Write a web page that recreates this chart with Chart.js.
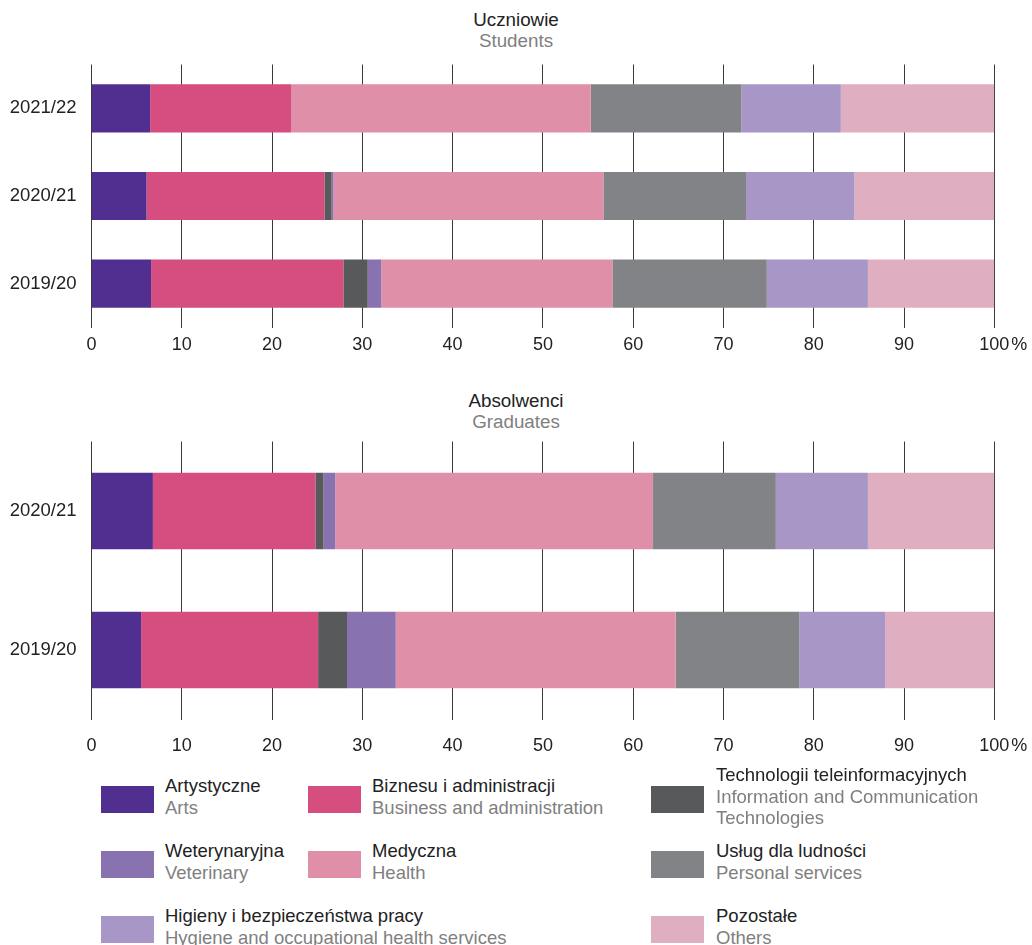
<!DOCTYPE html>
<html>
<head>
<meta charset="utf-8">
<script src="https://cdn.jsdelivr.net/npm/chart.js@4.4.0/dist/chart.umd.min.js"></script>
<style>
  body { margin: 0; background: #fff; font-family: 'Liberation Sans', Arial, sans-serif; }
  #page { position: relative; width: 1032px; height: 945px; overflow: hidden; }
  .box { position: absolute; left: 0; width: 1032px; }
  .ttl { position: absolute; left: 0; width: 1032px; text-align: center; font-size: 18.8px; line-height: 21px; }
  .pl { color: #222; }
  .en { color: #7f7f7f; }
  .sw { position: absolute; width: 53px; height: 27px; }
  .lt { position: absolute; font-size: 18.5px; line-height: 21.5px; white-space: nowrap; }
</style>
</head>
<body>
<div id="page">
  <div class="ttl" style="top:9px"><span class="pl">Uczniowie</span><br><span class="en">Students</span></div>
  <div class="box" style="top:0;height:360px"><canvas id="students"></canvas></div>
  <div class="ttl" style="top:390px"><span class="pl">Absolwenci</span><br><span class="en">Graduates</span></div>
  <div class="box" style="top:360px;height:410px"><canvas id="graduates"></canvas></div>
  <div id="legend"></div>
</div>
<script>
// years
const studentYears = ["2021/22", "2020/21", "2019/20"];
const graduateYears = ["2020/21", "2019/20"];

// series names (pl / en)
const namesPl = ["Artystyczne", "Biznesu i administracji", "Technologii teleinformacyjnych", "Weterynaryjna",
  "Medyczna", "Usług dla ludności", "Higieny i bezpieczeństwa pracy", "Pozostałe"];
const namesEn = ["Arts", "Business and administration", "Information and Communication<br>Technologies", "Veterinary",
  "Health", "Personal services", "Hygiene and occupational health services", "Others"];
const colors = ["#512f90", "#d64d80", "#58595b", "#8872b0", "#df8fa8", "#828386", "#a897c6", "#dfaec1"];

// students, % (one array per group, order = studentYears)
const stArts     = [6.5, 6.1, 6.6];
const stBusiness = [15.6, 19.7, 21.3];
const stIct      = [0, 0.8, 2.7];
const stVet      = [0, 0.2, 1.5];
const stHealth   = [33.2, 29.9, 25.6];
const stPersonal = [16.7, 15.8, 17.1];
const stHygiene  = [11.0, 12.0, 11.2];
const stOthers   = [17.0, 15.5, 14.0];

// graduates, % (order = graduateYears)
const grArts     = [6.8, 5.5];
const grBusiness = [18.0, 19.6];
const grIct      = [0.9, 3.2];
const grVet      = [1.3, 5.4];
const grHealth   = [35.2, 31.0];
const grPersonal = [13.6, 13.7];
const grHygiene  = [10.2, 9.5];
const grOthers   = [14.0, 12.1];

const xTicks = [0, 10, 20, 30, 40, 50, 60, 70, 80, 90, 100];

Chart.defaults.font.family = "'Liberation Sans', Arial, sans-serif";
Chart.defaults.font.size = 18;
Chart.defaults.color = "#222";

// draws the "%" right after the 100 tick
const percentSign = {
  id: "percentSign",
  afterDraw(chart, args, opts) {
    const x = chart.scales.x;
    const ctx = chart.ctx;
    ctx.save();
    ctx.font = "18px 'Liberation Sans', Arial, sans-serif";
    ctx.fillStyle = "#222";
    ctx.textBaseline = "middle";
    ctx.textAlign = "left";
    const px = x.getPixelForValue(100) + ctx.measureText("100").width / 2 + 2;
    ctx.fillText("%", px, x.top + opts.pad + 10.8);
    ctx.restore();
  }
};

function makeChart(id, labels, series, padTop, axisH, tickPad) {
  return new Chart(document.getElementById(id), {
    type: "bar",
    data: {
      labels: labels,
      datasets: series.map((d, i) => ({
        label: namesPl[i],
        data: d,
        backgroundColor: colors[i],
        borderWidth: 0,
        categoryPercentage: 0.55,
        barPercentage: 1.0,
      })),
    },
    options: {
      indexAxis: "y",
      responsive: true,
      maintainAspectRatio: false,
      animation: false,
      layout: { padding: { top: padTop, right: 37.7, left: 0, bottom: 0 } },
      plugins: { legend: { display: false }, tooltip: { enabled: false }, percentSign: { pad: tickPad } },
      scales: {
        x: {
          stacked: true,
          min: 0,
          max: 100,
          afterBuildTicks: (s) => { s.ticks = xTicks.map((v) => ({ value: v })); },
          afterFit: (s) => { s.height = axisH; },
          grid: { color: "#3a3a3a", lineWidth: 1, drawTicks: false },
          border: { display: false },
          ticks: { padding: tickPad, color: "#222", maxRotation: 0, callback: (v) => String(v) },
        },
        y: {
          stacked: true,
          afterFit: (s) => { s.width = 91.5; },
          grid: { display: false, drawTicks: false },
          border: { display: false },
          ticks: { padding: 15, color: "#222", font: { size: 18.5 } },
        },
      },
    },
    plugins: [percentSign],
  });
}

makeChart("students", studentYears,
  [stArts, stBusiness, stIct, stVet, stHealth, stPersonal, stHygiene, stOthers], 64.5, 32.5, 6.7);
makeChart("graduates", graduateYears,
  [grArts, grBusiness, grIct, grVet, grHealth, grPersonal, grHygiene, grOthers], 81.5, 50.5, 15.7);

// legend: [series index, swatch x, text x, swatch top]
const legendSlots = [
  [0, 101, 165, 786], [1, 308, 372, 786], [2, 651, 716, 786],
  [3, 101, 165, 851], [4, 308, 372, 851], [5, 651, 716, 851],
  [6, 101, 165, 916], [7, 651, 716, 916],
];
const lg = document.getElementById("legend");
legendSlots.forEach(([i, sx, tx, top]) => {
  const sw = document.createElement("div");
  sw.className = "sw";
  sw.style.left = sx + "px";
  sw.style.top = top + "px";
  sw.style.background = colors[i];
  lg.appendChild(sw);
  const t = document.createElement("div");
  t.className = "lt";
  t.innerHTML = '<span class="pl">' + namesPl[i] + '</span><br><span class="en">' + namesEn[i] + "</span>";
  t.style.left = tx + "px";
  const lines = namesEn[i].includes("<br>") ? 3 : 2;
  t.style.top = (top + 13.5 - lines * 21.5 / 2 - 3) + "px";
  lg.appendChild(t);
});
</script>
</body>
</html>
